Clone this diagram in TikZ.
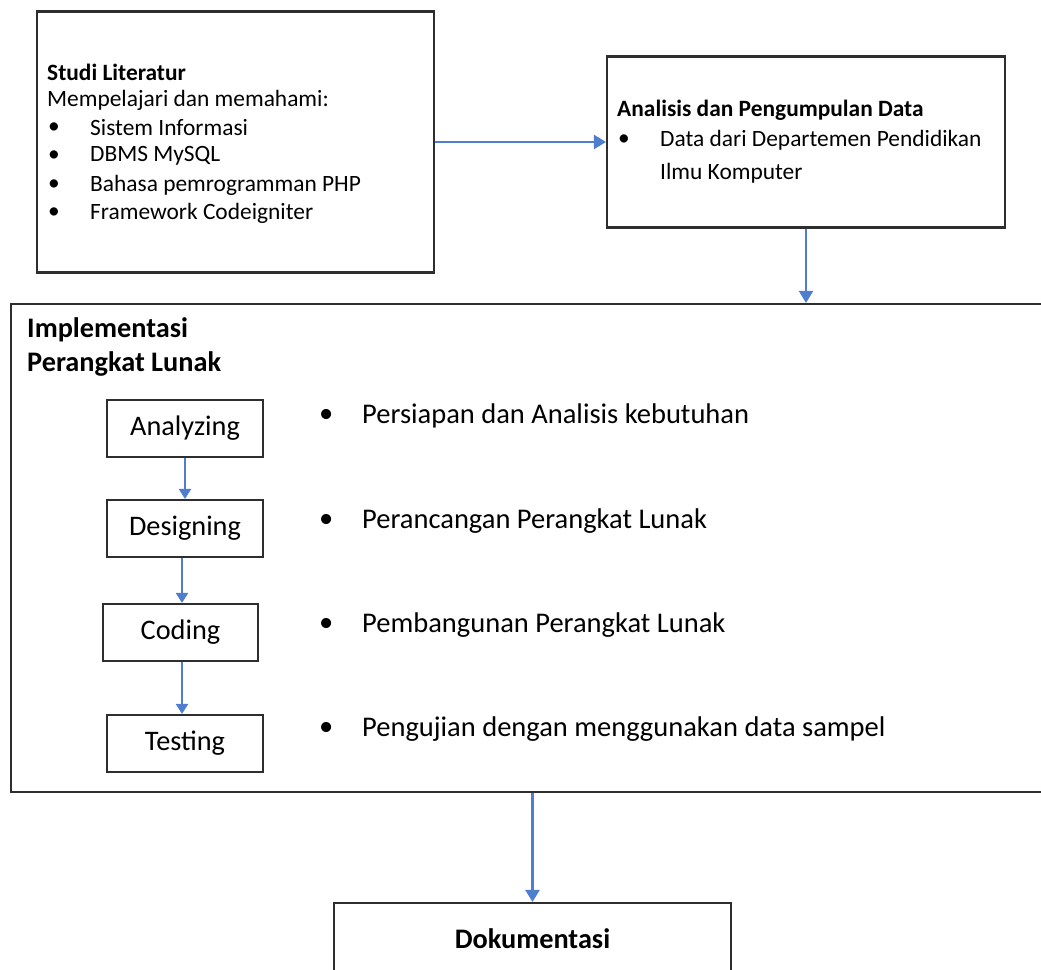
\documentclass[tikz,border=0pt]{standalone}
\usepackage{fontspec}
\setmainfont{Carlito}
\usetikzlibrary{arrows.meta,positioning}
\definecolor{arrowblue}{HTML}{4F7DCF}
\definecolor{boxline}{HTML}{2E2E2E}
\tikzset{
  frame/.style={draw=boxline, line width=2.1pt, fill=white, inner sep=0pt},
  smallbox/.style={frame, minimum width=156pt, minimum height=57pt, font=\fontsize{28.3}{34}\selectfont},
  flow/.style={draw=arrowblue, line width=2.2pt, -{Triangle[width=14pt,length=12pt]}},
  smallflow/.style={draw=arrowblue, line width=2pt, -{Triangle[width=12pt,length=10pt]}},
  topt/.style={anchor=west, inner sep=0pt, font=\fontsize{23.4}{28}\selectfont},
  topb/.style={anchor=west, inner sep=0pt, font=\fontsize{23.4}{28}\selectfont\bfseries},
  lowt/.style={anchor=west, inner sep=0pt, font=\fontsize{28.5}{34}\selectfont},
  lowb/.style={anchor=west, inner sep=0pt, font=\fontsize{28.3}{34}\selectfont\bfseries},
}
\begin{document}
\begin{tikzpicture}[x=1pt,y=-1pt]
\useasboundingbox[fill=white] (0,0) rectangle (1041,969);

% Top boxes
\node[frame, minimum width=397pt, minimum height=261pt] (studi) at (235.5,142) {};
\node[frame, minimum width=398pt, minimum height=171pt] (analisis) at (806,142) {};

% Studi Literatur text
\node[topb] (s0) at (47,72) {Studi Literatur};
\node[topt] (s1) at (47,100) {Mempelajari dan memahami:};
\node[topt] (b1) at (48,128) {\textbullet};
\node[topt] (s2) at (90,128) {Sistem Informasi};
\node[topt] (b2) at (48,156) {\textbullet};
\node[topt] (s3) at (90,156) {DBMS MySQL};
\node[topt] (b3) at (48,185) {\textbullet};
\node[topt] (s4) at (90,185) {Bahasa pemrogramman PHP};
\node[topt] (b4) at (48,213) {\textbullet};
\node[topt] (s5) at (90,213) {Framework Codeigniter};

% Analisis text
\node[topb] (a0) at (617,110) {Analisis dan Pengumpulan Data};
\node[topt] (ab1) at (618,140) {\textbullet};
\node[topt] (a1) at (660,140) {Data dari Departemen Pendidikan};
\node[topt] (a2) at (660,173) {Ilmu Komputer};

% Big box
\node[frame, minimum width=1049pt, minimum height=488pt] (impl) at (535.5,548) {};
\node[lowb] (i0) at (27,330) {Implementasi};
\node[lowb] (i1) at (27,364) {Perangkat Lunak};

% Small boxes
\node[smallbox] (ana) at (185,428.5) {Analyzing};
\node[smallbox] (des) at (185,528.5) {Designing};
\node[smallbox, minimum width=155pt] (cod) at (180.5,632.5) {Coding};
\node[smallbox] (tes) at (185,743.5) {Testing};

% Right descriptions
\node[lowt] (d1b) at (319,416) {\textbullet};
\node[lowt] (d1) at (362,416) {Persiapan dan Analisis kebutuhan};
\node[lowt] (d2b) at (319,521) {\textbullet};
\node[lowt] (d2) at (362,521) {Perancangan Perangkat Lunak};
\node[lowt] (d3b) at (319,625) {\textbullet};
\node[lowt] (d3) at (362,625) {Pembangunan Perangkat Lunak};
\node[lowt] (d4b) at (319,729) {\textbullet};
\node[lowt] (d4) at (362,729) {Pengujian dengan menggunakan data sampel};

% Dokumentasi
\node[frame, minimum width=397pt, minimum height=110pt] (dok) at (532.5,958) {};
\node[lowb, anchor=center] (dokt) at (532.5,939) {Dokumentasi};

% Connectors
\draw[flow] (studi.east) -- (analisis.west);
\draw[flow] (analisis.south) -- (analisis.south |- impl.north);
\draw[flow] (dok.north |- impl.south) -- (dok.north);
\draw[smallflow] (ana.south) -- (des.north);
\draw[smallflow] ([xshift=-3pt]des.south) -- ([xshift=-3pt]des.south |- cod.north);
\draw[smallflow] ([xshift=1.5pt]cod.south) -- ([xshift=1.5pt]cod.south |- tes.north);
\end{tikzpicture}
\end{document}
